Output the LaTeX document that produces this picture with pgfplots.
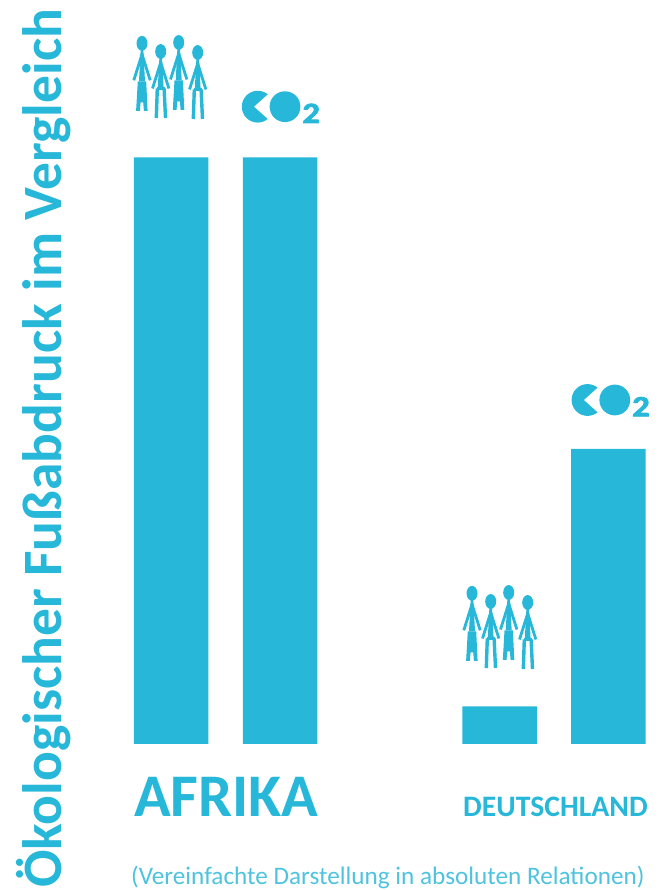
\documentclass[border=0pt]{standalone}
\usepackage{pgfplots}
\usepackage{fontspec}
\pgfplotsset{compat=1.18}
\setmainfont{Carlito}
\newfontfamily\heavyfont{Carlito Bold}[FakeBold=2.5]
\definecolor{teal1}{HTML}{27B7D8}
\definecolor{teal2}{HTML}{4FC3DE}

% A woman and a man, origin at the centre of the head, y pointing down
\newcommand\upperbody{%
  \fill[teal1] (0,0) ellipse (5.5pt and 7.4pt);
  \fill[teal1] (-1.3,6) -- (1.3,6) -- (3,38) -- (-3,38) -- cycle;
  \draw[teal1,line width=2.8pt,line join=round] (-8.2,37) -- (0,11) -- (8.2,37);
}
\newcommand\woman{%
  \upperbody
  \fill[teal1] (-4.2,38) -- (4.2,38) -- (5.6,67.5) -- (1.9,67.5) -- (1.2,59) -- (-1.4,59) -- (-2.2,67.5) -- (-5.9,67.5) -- cycle;
}
\newcommand\man{%
  \upperbody
  \draw[teal1,line width=2.8pt] (-3.8,37) -- (3.8,37);
  \draw[teal1,line width=3.4pt] (-3.4,37) -- (-4.4,66.5);
  \draw[teal1,line width=3.4pt] (3.4,37) -- (4.8,66.5);
}
% Group of four figures, #1 and #2 give the shift of the whole group
\newcommand\people[2]{%
  \begin{scope}[shift={(axis cs:#1,#2)},x=1pt,y=-1pt]
    \begin{scope}[shift={(0,0)}]\woman\end{scope}
    \begin{scope}[shift={(18.7,8.2)}]\man\end{scope}
    \begin{scope}[shift={(36.7,-0.8)}]\woman\end{scope}
    \begin{scope}[shift={(55.7,9.2)}]\man\end{scope}
  \end{scope}
}
% CO2 pictogram, origin at the centre of the C
\newcommand\cotwo[2]{%
  \begin{scope}[shift={(axis cs:#1,#2)},x=1pt,y=-1pt]
    \fill[teal1] (0,0) circle (15.9pt);
    \fill[white] (-3.5,0) -- (11,-13) -- (17,-15) -- (17,15) -- (11,13) -- cycle;
    \fill[teal1] (27.3,0) circle (15.4pt);
    \node[teal1,anchor=base,inner sep=0pt] at (53.5,16.3) {\heavyfont\fontsize{30}{30}\selectfont\scalebox{1.15}[0.98]{2}};
  \end{scope}
}

\begin{document}
\begin{tikzpicture}
\useasboundingbox (0,0) rectangle (657pt,890pt);
\begin{axis}[
  scale only axis,
  width=657pt, height=890pt,
  xmin=0, xmax=657,
  ymin=-146, ymax=744,
  hide axis,
  clip=false,
]
% Heights above the common base line
\addplot[ybar, bar width=74.5pt, bar shift=0pt, fill=teal1, draw=none] coordinates {
  (171.2,586.5) (280,586.5) (499.5,37.5) (608.3,295)
};

\people{142}{700.7}
\people{472}{150.7}
\cotwo{257.7}{637.3}
\cotwo{587.5}{344}

\node[teal1,rotate=90,anchor=base west,inner sep=0pt,font=\fontsize{55.5}{55.5}\selectfont\bfseries] at (axis cs:61,-144) {Ökologischer Fußabdruck im Vergleich};
\node[teal1,anchor=base west,inner sep=0pt,font=\fontsize{60.5}{60.5}\selectfont\bfseries] at (axis cs:134,-72.5) {AFRIKA};
\node[teal1,anchor=base west,inner sep=0pt,font=\fontsize{29.7}{29.7}\selectfont\bfseries] at (axis cs:463,-72.5) {DEUTSCHLAND};
\node[teal2,anchor=base west,inner sep=0pt,font=\fontsize{25.2}{25.2}\selectfont] at (axis cs:131,-140.5) {(Vereinfachte Darstellung in absoluten Relationen)};
\end{axis}
\end{tikzpicture}
\end{document}
